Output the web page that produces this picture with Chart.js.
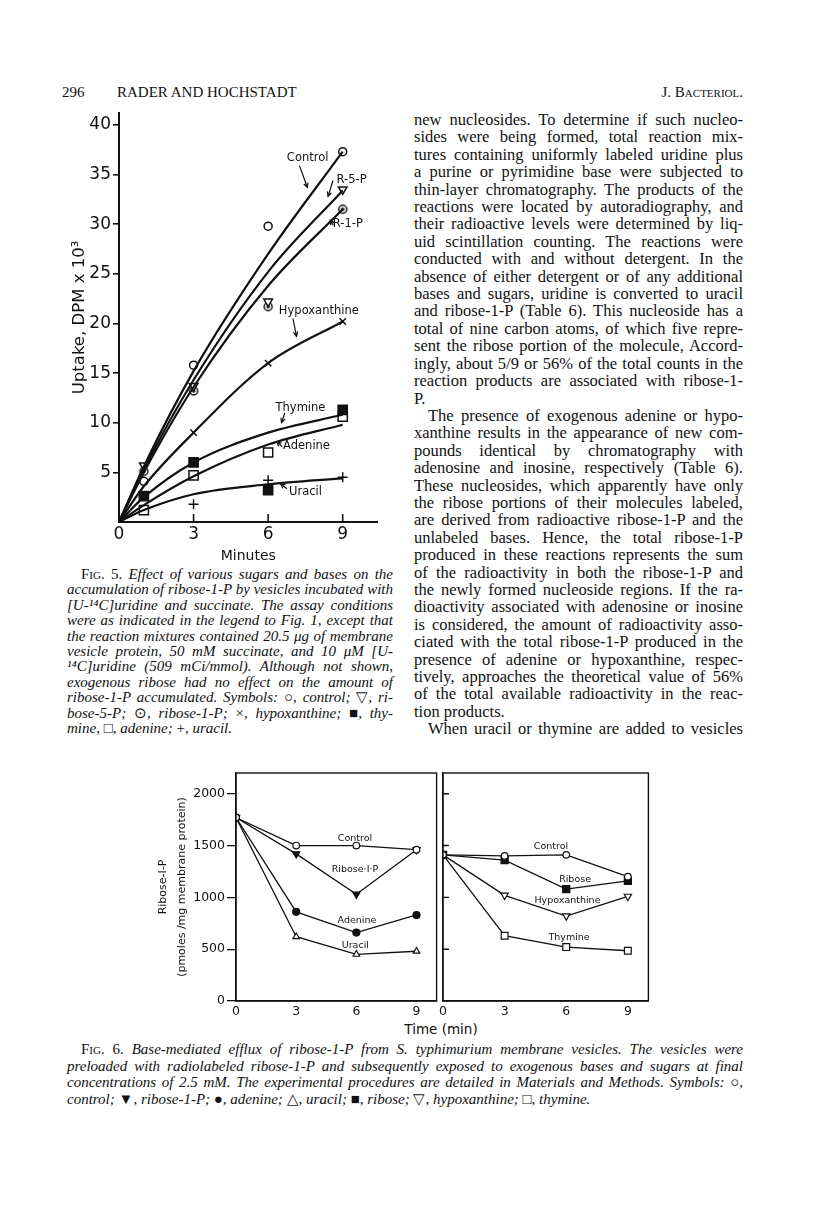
<!DOCTYPE html>
<html>
<head>
<meta charset="utf-8">
<script src="https://cdn.jsdelivr.net/npm/chart.js@4.4.0/dist/chart.umd.min.js"></script>
<style>
body { margin: 0; background: #fff; width: 816px; height: 1231px; position: relative; overflow: hidden; color: #111; font-family: "Liberation Serif", serif; }
.abs { position: absolute; }
.head { font-size: 15px; line-height: 18px; top: 83px; }
.sc { font-variant: small-caps; }
.col div { white-space: nowrap; }
.col div.ind { text-indent: 14px; }
.body { left: 414px; top: 111px; width: 329px; font-size: 16.5px; line-height: 17.4px; }
.cap5 { left: 67px; top: 567px; width: 326px; font-size: 15px; line-height: 15.4px; font-style: italic; }
.cap6 { left: 67px; top: 1041px; width: 676px; font-size: 15px; line-height: 16.5px; font-style: italic; }
.fig { font-style: normal; font-variant: small-caps; }
.up { font-style: normal; }
canvas { position: absolute; }
</style>
</head>
<body>
<div class="abs head" style="left:62px">296</div>
<div class="abs head" style="left:117px">RADER AND HOCHSTADT</div>
<div class="abs head" style="right:73px">J. <span class="sc">Bacteriol.</span></div>

<div class="abs col body">
<div>new nucleosides. To determine if such nucleo-</div>
<div>sides were being formed, total reaction mix-</div>
<div>tures containing uniformly labeled uridine plus</div>
<div>a purine or pyrimidine base were subjected to</div>
<div>thin-layer chromatography. The products of the</div>
<div>reactions were located by autoradiography, and</div>
<div>their radioactive levels were determined by liq-</div>
<div>uid scintillation counting. The reactions were</div>
<div>conducted with and without detergent. In the</div>
<div>absence of either detergent or of any additional</div>
<div>bases and sugars, uridine is converted to uracil</div>
<div>and ribose-1-P (Table 6). This nucleoside has a</div>
<div>total of nine carbon atoms, of which five repre-</div>
<div>sent the ribose portion of the molecule, Accord-</div>
<div>ingly, about 5/9 or 56% of the total counts in the</div>
<div>reaction products are associated with ribose-1-</div>
<div class="end">P.</div>
<div class="ind">The presence of exogenous adenine or hypo-</div>
<div>xanthine results in the appearance of new com-</div>
<div>pounds identical by chromatography with</div>
<div>adenosine and inosine, respectively (Table 6).</div>
<div>These nucleosides, which apparently have only</div>
<div>the ribose portions of their molecules labeled,</div>
<div>are derived from radioactive ribose-1-P and the</div>
<div>unlabeled bases. Hence, the total ribose-1-P</div>
<div>produced in these reactions represents the sum</div>
<div>of the radioactivity in both the ribose-1-P and</div>
<div>the newly formed nucleoside regions. If the ra-</div>
<div>dioactivity associated with adenosine or inosine</div>
<div>is considered, the amount of radioactivity asso-</div>
<div>ciated with the total ribose-1-P produced in the</div>
<div>presence of adenine or hypoxanthine, respec-</div>
<div>tively, approaches the theoretical value of 56%</div>
<div>of the total available radioactivity in the reac-</div>
<div class="end">tion products.</div>
<div class="ind">When uracil or thymine are added to vesicles</div>
</div>

<div class="abs col cap5">
<div class="ind"><span class="fig">Fig.</span> <span class="up">5.</span> Effect of various sugars and bases on the</div>
<div>accumulation of ribose-1-P by vesicles incubated with</div>
<div>[U-¹⁴C]uridine and succinate. The assay conditions</div>
<div>were as indicated in the legend to Fig. 1, except that</div>
<div>the reaction mixtures contained 20.5 μg of membrane</div>
<div>vesicle protein, 50 mM succinate, and 10 μM [U-</div>
<div>¹⁴C]uridine (509 mCi/mmol). Although not shown,</div>
<div>exogenous ribose had no effect on the amount of</div>
<div>ribose-1-P accumulated. Symbols: <span class="up">○</span>, control; <span class="up">▽</span>, ri-</div>
<div>bose-5-P; <span class="up">⊙</span>, ribose-1-P; <span class="up">×</span>, hypoxanthine; <span class="up">■</span>, thy-</div>
<div class="end">mine, <span class="up">□</span>, adenine; <span class="up">+</span>, uracil.</div>
</div>

<div class="abs col cap6">
<div class="ind"><span class="fig">Fig.</span> <span class="up">6.</span> Base-mediated efflux of ribose-1-P from S. typhimurium membrane vesicles. The vesicles were</div>
<div>preloaded with radiolabeled ribose-1-P and subsequently exposed to exogenous bases and sugars at final</div>
<div>concentrations of 2.5 mM. The experimental procedures are detailed in Materials and Methods. Symbols: <span class="up">○</span>,</div>
<div class="end">control; <span class="up">▼</span>, ribose-1-P; <span class="up">●</span>, adenine; <span class="up">△</span>, uracil; <span class="up">■</span>, ribose; <span class="up">▽</span>, hypoxanthine; <span class="up">□</span>, thymine.</div>
</div>

<div class="abs" style="left:391px; top:1021px; width:100px; text-align:center; font:13.5px 'DejaVu Sans'">Time (min)</div>

<canvas id="fig5" width="330" height="470" style="left:60px; top:100px"></canvas>
<canvas id="fig6a" width="312" height="270" style="left:130px; top:763px"></canvas>
<canvas id="fig6b" width="220" height="270" style="left:436px; top:763px"></canvas>

<script>
// Fig. 5: uptake (DPM x 10^3) against minutes, measured points
const f5Minutes = [1, 3, 6, 9];
const f5Control = [4.1, 15.8, 29.8, 37.3];
const f5R5P = [5.7, 13.7, 22.2, 33.5];
const f5R1P = [5.1, 13.2, 21.7, 31.5];
const f5Hypox = [null, 9.0, 16.0, 20.2];
const f5Thymine = [2.6, 6.0, 3.2, 11.3];
const f5Adenine = [1.2, 4.7, 7.0, 10.6];
const f5Uracil = [null, 1.8, 4.2, 4.5];

// Fig. 5: hand-drawn curves
const f5CurveMinutes = [0, 1, 3, 6, 9];
const f5CurveControl = [0, 5.6, 15.2, 27.0, 37.3];
const f5CurveR5P = [0, 5.3, 14.3, 25.2, 33.4];
const f5CurveR1P = [0, 5.0, 13.6, 23.8, 31.5];
const f5CurveHypox = [0, 3.6, 9.0, 16.0, 20.2];
const f5CurveThymine = [0, 2.5, 6.0, 9.0, 10.8];
const f5CurveAdenine = [0, 1.7, 4.6, 7.8, 9.8];
const f5CurveUracil = [0, 1.2, 2.8, 3.8, 4.4];
const f5YTicks = [5, 10, 15, 20, 25, 30, 35, 40];
const f5XTicks = [0, 3, 6, 9];

// Fig. 6: ribose-1-P (pmoles/mg membrane protein) against time (min)
const f6Minutes = [0, 3, 6, 9];
const f6aControl = [1770, 1500, 1500, 1460];
const f6aRibose1P = [1770, 1420, 1030, 1460];
const f6aAdenine = [1770, 860, 660, 830];
const f6aUracil = [1770, 620, 450, 480];
const f6bControl = [1410, 1400, 1410, 1200];
const f6bRibose = [1410, 1360, 1080, 1160];
const f6bHypox = [1410, 1020, 820, 1010];
const f6bThymine = [1410, 630, 520, 485];
const f6YTicks = [0, 500, 1000, 1500, 2000];
const f6XTicks = [0, 3, 6, 9];

// stretch each printed line to the column width, like the typeset page
document.querySelectorAll('.col > div').forEach(d => {
    d.innerHTML = '<span>' + d.innerHTML + '</span>';
    const s = d.firstChild;
    const indent = d.classList.contains('ind') ? 14 : 0;
    const avail = d.clientWidth - indent;
    const w = s.getBoundingClientRect().width;
    if (w > avail) {
        s.style.letterSpacing = ((avail - w) / d.textContent.length) + 'px';
        return;
    }
    if (d.classList.contains('end')) return;
    const gaps = (d.textContent.trim().match(/ /g) || []).length;
    if (gaps) s.style.wordSpacing = ((avail - w) / gaps) + 'px';
});

const ink = '#111';
Chart.defaults.font.family = 'DejaVu Sans';
Chart.defaults.color = ink;

function pts(xs, ys) {
    return xs.map((x, i) => ({x: x, y: ys[i]})).filter(p => p.y !== null);
}
function fixTicks(list) {
    return s => { s.ticks = list.map(v => ({value: v})); };
}

// circle with a dot in the middle, for ribose-1-P in fig. 5
function dotCircle(r) {
    const c = document.createElement('canvas');
    c.width = c.height = 2 * r + 4;
    const g = c.getContext('2d');
    g.lineWidth = 1.5;
    g.strokeStyle = ink;
    g.fillStyle = '#fff';
    g.beginPath(); g.arc(r + 2, r + 2, r, 0, Math.PI * 2); g.fill(); g.stroke();
    g.fillStyle = ink;
    g.beginPath(); g.arc(r + 2, r + 2, 1.8, 0, Math.PI * 2); g.fill();
    return c;
}

// labels, arrows, inner ticks and box frame drawn over the plot
const paperMarks = {
    id: 'paperMarks',
    afterDatasetsDraw(chart, args, o) {
        const {ctx, chartArea: a, scales: {x, y}} = chart;
        ctx.save();
        ctx.strokeStyle = ink;
        ctx.fillStyle = ink;
        ctx.lineWidth = o.lineWidth || 1.4;
        if (o.frame) ctx.strokeRect(a.left, a.top, a.width, a.height);
        ctx.beginPath();
        (o.innerX || []).forEach(v => {
            const px = x.getPixelForValue(v);
            ctx.moveTo(px, a.bottom); ctx.lineTo(px, a.bottom - o.tickLen);
        });
        (o.innerY || []).forEach(v => {
            const py = y.getPixelForValue(v);
            ctx.moveTo(a.left, py); ctx.lineTo(a.left + o.tickLen, py);
        });
        ctx.stroke();
        ctx.font = o.font;
        ctx.textBaseline = 'middle';
        (o.notes || []).forEach(n => {
            ctx.textAlign = n.align || 'center';
            ctx.fillText(n.text, x.getPixelForValue(n.x), y.getPixelForValue(n.y));
        });
        ctx.lineWidth = 1.2;
        (o.arrows || []).forEach(ar => {
            const x1 = x.getPixelForValue(ar[0]), y1 = y.getPixelForValue(ar[1]);
            const x2 = x.getPixelForValue(ar[2]), y2 = y.getPixelForValue(ar[3]);
            const ang = Math.atan2(y2 - y1, x2 - x1);
            ctx.beginPath();
            ctx.moveTo(x1, y1); ctx.lineTo(x2, y2);
            ctx.moveTo(x2 - 5 * Math.cos(ang - 0.45), y2 - 5 * Math.sin(ang - 0.45));
            ctx.lineTo(x2, y2);
            ctx.lineTo(x2 - 5 * Math.cos(ang + 0.45), y2 - 5 * Math.sin(ang + 0.45));
            ctx.stroke();
        });
        ctx.restore();
    }
};

function curve(ys) {
    return {
        data: pts(f5CurveMinutes, ys), borderColor: ink, borderWidth: 2.2,
        pointRadius: 0, cubicInterpolationMode: 'monotone', fill: false
    };
}
function marks(ys, style, r, filled, rot) {
    return {
        data: pts(f5Minutes, ys), showLine: false, pointStyle: style, pointRadius: r,
        pointRotation: rot || 0, pointBorderColor: ink, pointBorderWidth: 1.5,
        pointBackgroundColor: filled ? ink : '#fff'
    };
}

new Chart(document.getElementById('fig5'), {
    type: 'line',
    data: {
        datasets: [
            curve(f5CurveControl), curve(f5CurveR5P), curve(f5CurveR1P), curve(f5CurveHypox),
            curve(f5CurveThymine), curve(f5CurveAdenine), curve(f5CurveUracil),
            marks(f5Control, 'circle', 4, false),
            marks(f5R5P, 'triangle', 5, false, 180),
            marks(f5R1P, dotCircle(4), 4, false),
            marks(f5Hypox, 'crossRot', 4.5, false),
            marks(f5Thymine, 'rect', 6.5, true),
            marks(f5Adenine, 'rect', 6.5, false),
            marks(f5Uracil, 'cross', 5, false)
        ]
    },
    options: {
        responsive: false,
        animation: false,
        layout: {padding: {top: 13, right: 12.5, left: 0, bottom: 0}},
        plugins: {
            legend: {display: false},
            tooltip: {enabled: false},
            paperMarks: {
                tickLen: 8, lineWidth: 1.6, font: '11.5px "DejaVu Sans"',
                innerX: [3, 6, 9],
                notes: [
                    {text: 'Control', x: 7.59, y: 36.7},
                    {text: 'R-5-P', x: 8.75, y: 34.4, align: 'left'},
                    {text: 'R-1-P', x: 8.6, y: 30.0, align: 'left'},
                    {text: 'Hypoxanthine', x: 8.04, y: 21.3},
                    {text: 'Thymine', x: 7.3, y: 11.45},
                    {text: 'Adenine', x: 6.6, y: 7.65, align: 'left'},
                    {text: 'Uracil', x: 6.84, y: 3.0, align: 'left'}
                ],
                arrows: [
                    [7.26, 35.9, 7.58, 33.7],
                    [8.61, 34.4, 8.41, 32.8],
                    [8.62, 29.9, 8.5, 30.4],
                    [7.0, 20.5, 7.14, 18.7],
                    [6.67, 11.0, 6.54, 10.0],
                    [6.56, 7.6, 6.35, 8.1],
                    [6.76, 3.35, 6.5, 3.85]
                ]
            }
        },
        scales: {
            x: {
                type: 'linear', min: 0, max: 10.4,
                afterFit: s => { s.height = 48; },
                afterBuildTicks: fixTicks(f5XTicks),
                border: {color: ink, width: 2},
                grid: {display: false, drawTicks: false},
                ticks: {padding: 2, font: {size: 17}, color: ink},
                title: {display: true, text: 'Minutes', font: {size: 14}, color: ink, padding: {top: 0, bottom: 5}}
            },
            y: {
                type: 'linear', min: 0, max: 41.2,
                afterFit: s => { s.width = 59; },
                afterBuildTicks: fixTicks(f5YTicks),
                border: {color: ink, width: 2},
                grid: {drawOnChartArea: false, drawTicks: true, tickLength: 6, color: ink, lineWidth: 1.6},
                ticks: {padding: 2, font: {size: 17}, color: ink},
                title: {display: true, text: 'Uptake, DPM x 10³', font: {size: 16.5}, color: ink, padding: {top: 10, bottom: 0}}
            }
        }
    },
    plugins: [paperMarks]
});

function line6(ys, style, r, filled, rot) {
    return {
        data: pts(f6Minutes, ys), borderColor: ink, borderWidth: 1.3, tension: 0,
        pointStyle: style, pointRadius: r, pointRotation: rot || 0,
        pointBorderColor: ink, pointBorderWidth: 1.2,
        pointBackgroundColor: filled ? ink : '#fff'
    };
}

function fig6Options(left, notes, yScale, padRight) {
    return {
        responsive: false,
        animation: false,
        layout: {padding: {top: 10, right: padRight, left: 0, bottom: 0}},
        plugins: {
            legend: {display: false},
            tooltip: {enabled: false},
            paperMarks: {
                frame: true, tickLen: 6, font: '9.5px "DejaVu Sans"',
                innerY: left ? [] : f6YTicks.slice(1),
                notes: notes
            }
        },
        scales: {
            x: {
                type: 'linear', min: 0, max: 10,
                afterFit: s => { s.height = 32; },
                afterBuildTicks: fixTicks(f6XTicks),
                border: {color: ink, width: 1.4},
                grid: {display: false, drawTicks: false},
                ticks: {padding: 3, font: {size: 12.5}, color: ink}
            },
            y: yScale
        }
    };
}

new Chart(document.getElementById('fig6a'), {
    type: 'line',
    data: {
        datasets: [
            line6(f6aControl, 'circle', 3.3, false),
            line6(f6aRibose1P, 'triangle', 4.2, true, 180),
            line6(f6aAdenine, 'circle', 3.5, true),
            line6(f6aUracil, 'triangle', 3.8, false)
        ]
    },
    options: fig6Options(true, [
        {text: 'Control', x: 5.93, y: 1572},
        {text: 'Ribose·I·P', x: 5.93, y: 1266},
        {text: 'Adenine', x: 6.03, y: 773},
        {text: 'Uracil', x: 5.95, y: 534}
    ], {
        type: 'linear', min: 0, max: 2200,
        afterFit: s => { s.width = 106; },
        afterBuildTicks: fixTicks(f6YTicks),
        border: {color: ink, width: 1.4},
        grid: {drawOnChartArea: false, tickLength: 9, color: ink, lineWidth: 1.3},
        ticks: {padding: 2, font: {size: 12.5}, color: ink, callback: v => String(v)},
        title: {
            display: true, text: ['Ribose-I-P', '(pmoles /mg membrane protein)'],
            font: {size: 11, lineHeight: 1.73}, color: ink, padding: {top: 24, bottom: 0}
        }
    }, 0),
    plugins: [paperMarks]
});

new Chart(document.getElementById('fig6b'), {
    type: 'line',
    data: {
        datasets: [
            line6(f6bControl, 'circle', 3.3, false),
            line6(f6bRibose, 'rect', 5, true),
            line6(f6bHypox, 'triangle', 4.2, false, 180),
            line6(f6bThymine, 'rect', 4.8, false)
        ]
    },
    options: fig6Options(false, [
        {text: 'Control', x: 5.26, y: 1491},
        {text: 'Ribose', x: 6.43, y: 1169},
        {text: 'Hypoxanthine', x: 6.06, y: 969},
        {text: 'Thymine', x: 6.14, y: 612}
    ], {
        type: 'linear', min: 0, max: 2200,
        afterFit: s => { s.width = 5; },
        border: {color: ink, width: 1.4},
        grid: {drawOnChartArea: false, drawTicks: false},
        ticks: {display: false}
    }, 7.6),
    plugins: [paperMarks]
});
</script>
</body>
</html>
